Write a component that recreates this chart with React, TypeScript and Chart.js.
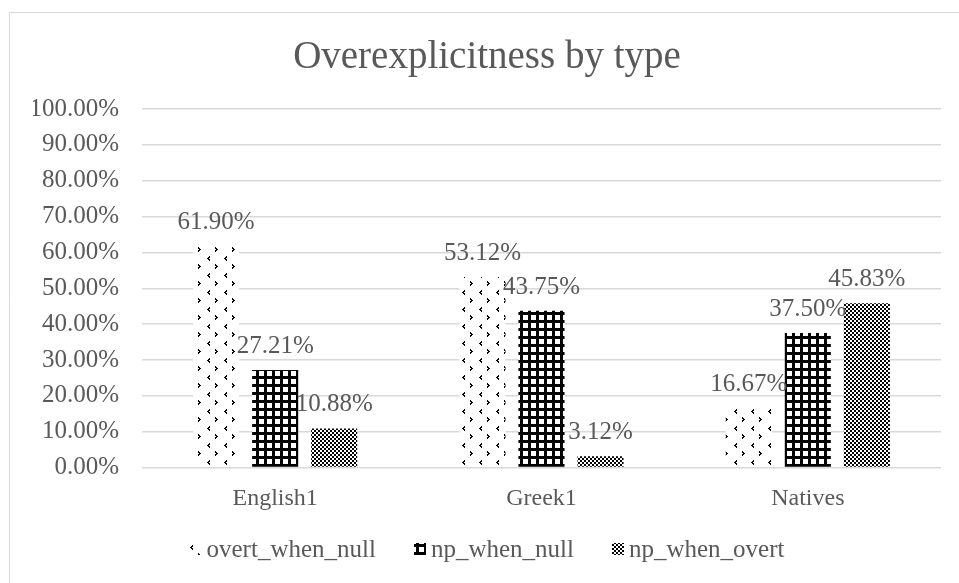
import React, { useEffect, useRef } from "react";
import { Chart, registerables } from "chart.js";

Chart.register(...registerables);

const TITLE = "Overexplicitness by type";
const CATEGORIES = ["English1", "Greek1", "Natives"];
const SERIES_NAMES = ["overt_when_null", "np_when_null", "np_when_overt"];
const OVERT_WHEN_NULL = [61.9, 53.12, 16.67];
const NP_WHEN_NULL = [27.21, 43.75, 37.5];
const NP_WHEN_OVERT = [10.88, 3.12, 45.83];
const Y_TICKS = [0, 10, 20, 30, 40, 50, 60, 70, 80, 90, 100];

const FONT = "'Liberation Serif', 'Times New Roman', serif";
const TEXT = "#595959";
const GRID = "#d9d9d9";

function makeTile(w: number, h: number, draw: (c: CanvasRenderingContext2D) => void) {
  const tile = document.createElement("canvas");
  tile.width = w;
  tile.height = h;
  const c = tile.getContext("2d")!;
  draw(c);
  return tile;
}

// staggered small chevrons on white
function confettiPattern(ctx: CanvasRenderingContext2D) {
  const left = [[2, 0], [1, 1], [2, 1], [0, 2], [1, 2], [1, 3], [2, 3], [2, 4]];
  const right = [[0, 0], [0, 1], [1, 1], [1, 2], [2, 2], [0, 3], [1, 3], [0, 4]];
  const tile = makeTile(17, 17, (c) => {
    c.fillStyle = "#ffffff";
    c.fillRect(0, 0, 17, 17);
    c.fillStyle = "#000000";
    left.forEach(([dx, dy]) => c.fillRect(3 + dx, 1 + dy, 1, 1));
    right.forEach(([dx, dy]) => c.fillRect(11 + dx, 9 + dy, 1, 1));
  });
  return ctx.createPattern(tile, "repeat")!;
}

// heavy black grid on white
function gridPattern(ctx: CanvasRenderingContext2D) {
  const tile = makeTile(8, 8, (c) => {
    c.fillStyle = "#ffffff";
    c.fillRect(0, 0, 8, 8);
    c.fillStyle = "#000000";
    c.fillRect(0, 0, 3, 8);
    c.fillRect(0, 0, 8, 3);
  });
  return ctx.createPattern(tile, "repeat")!;
}

// fine checkerboard
function checkerPattern(ctx: CanvasRenderingContext2D) {
  const tile = makeTile(4, 4, (c) => {
    c.fillStyle = "#ffffff";
    c.fillRect(0, 0, 4, 4);
    c.fillStyle = "#000000";
    c.fillRect(0, 0, 2, 2);
    c.fillRect(2, 2, 2, 2);
  });
  return ctx.createPattern(tile, "repeat")!;
}

const frame = {
  id: "frame",
  beforeDraw(chart: any) {
    const { ctx, width, height } = chart;
    ctx.save();
    ctx.fillStyle = "#ffffff";
    ctx.fillRect(0, 0, width, height);
    ctx.strokeStyle = GRID;
    ctx.lineWidth = 1;
    ctx.beginPath();
    ctx.moveTo(9.5, height);
    ctx.lineTo(9.5, 12.5);
    ctx.lineTo(width, 12.5);
    ctx.stroke();
    ctx.restore();
  },
};

const valueLabels = {
  id: "valueLabels",
  afterDatasetsDraw(chart: any) {
    const { ctx } = chart;
    ctx.save();
    ctx.font = `25px ${FONT}`;
    ctx.fillStyle = TEXT;
    ctx.textAlign = "center";
    ctx.textBaseline = "alphabetic";
    chart.data.datasets.forEach((ds: any, i: number) => {
      const meta = chart.getDatasetMeta(i);
      meta.data.forEach((bar: any, j: number) => {
        const v = ds.data[j] as number;
        ctx.fillText(v.toFixed(2) + "%", bar.x, bar.y - 17);
      });
    });
    ctx.restore();
  },
};

const bottomLegend = {
  id: "bottomLegend",
  afterDraw(chart: any) {
    const { ctx } = chart;
    const box = 12;
    const gap = 5;
    const itemGap = 38;
    const centerX = 487;
    const centerY = 549;
    ctx.save();
    ctx.font = `25px ${FONT}`;
    const items = chart.data.datasets.map((ds: any) => ({
      label: ds.label as string,
      fill: ds.backgroundColor,
      w: box + gap + ctx.measureText(ds.label).width,
    }));
    const total = items.reduce((s: number, it: any) => s + it.w, 0) + itemGap * (items.length - 1);
    let x = centerX - total / 2;
    ctx.textBaseline = "middle";
    ctx.textAlign = "left";
    items.forEach((it: any) => {
      ctx.fillStyle = it.fill;
      ctx.fillRect(Math.round(x), centerY - box / 2, box, box);
      ctx.fillStyle = TEXT;
      ctx.fillText(it.label, x + box + gap, centerY + 1);
      x += it.w + itemGap;
    });
    ctx.restore();
  },
};

export default function App() {
  const ref = useRef<HTMLCanvasElement>(null);

  useEffect(() => {
    const canvas = ref.current!;
    const ctx = canvas.getContext("2d")!;
    const fills = [confettiPattern(ctx), gridPattern(ctx), checkerPattern(ctx)];
    const series = [OVERT_WHEN_NULL, NP_WHEN_NULL, NP_WHEN_OVERT];

    const chart = new Chart(canvas, {
      type: "bar",
      data: {
        labels: CATEGORIES,
        datasets: series.map((data, i) => ({
          label: SERIES_NAMES[i],
          data,
          backgroundColor: fills[i] as any,
          borderWidth: 0,
          categoryPercentage: 0.665,
          barPercentage: 0.78,
        })),
      },
      options: {
        responsive: false,
        animation: false,
        devicePixelRatio: 1,
        layout: { padding: { left: 33, right: 18, top: 0, bottom: 65.5 } },
        plugins: {
          legend: { display: false },
          tooltip: { enabled: false },
          title: {
            display: true,
            text: TITLE,
            color: TEXT,
            font: { family: FONT, size: 39, weight: "normal" as any },
            padding: { top: 34, bottom: 28.2 },
          },
        },
        scales: {
          y: {
            min: 0,
            max: 100,
            afterBuildTicks: (s: any) => {
              s.ticks = Y_TICKS.map((v) => ({ value: v }));
            },
            afterFit: (s: any) => {
              s.width = 109;
            },
            ticks: {
              color: TEXT,
              font: { family: FONT, size: 25 },
              padding: 23,
              callback: (v: any) => Number(v).toFixed(2) + "%",
            },
            grid: { color: GRID, lineWidth: 1.5, drawTicks: false },
            border: { display: false },
          },
          x: {
            afterFit: (s: any) => {
              s.height = 50;
            },
            ticks: {
              color: TEXT,
              font: { family: FONT, size: 24 },
              padding: 17,
            },
            grid: { display: false, drawTicks: false },
            border: { display: false },
          },
        },
      },
      plugins: [frame, valueLabels, bottomLegend],
    });
    return () => chart.destroy();
  }, []);

  return (
    <div style={{ position: "fixed", left: 0, top: 0, width: 959, height: 583 }}>
      <canvas ref={ref} width={959} height={583} style={{ display: "block" }} />
    </div>
  );
}
